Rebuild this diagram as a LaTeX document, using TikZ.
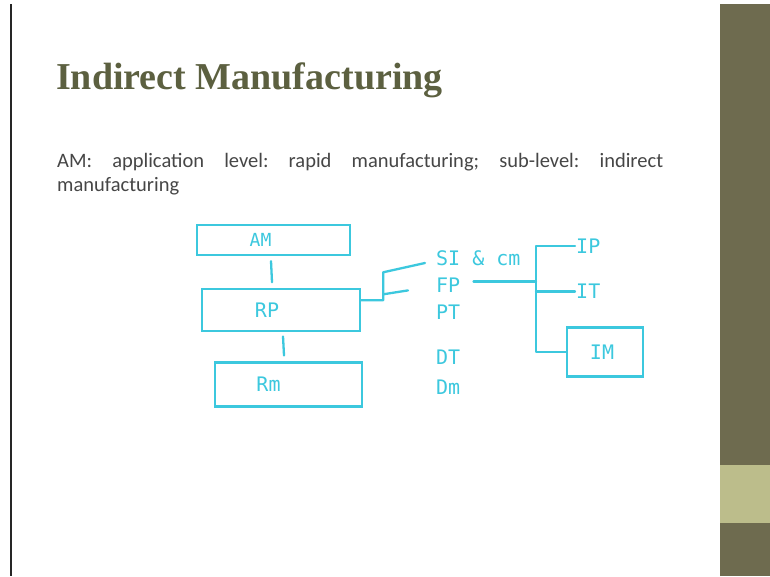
\documentclass[tikz,border=0pt]{standalone}
\usepackage{fontspec}
\setmainfont{Carlito}
\newfontfamily\titlefont{Liberation Serif}
\newfontfamily\handfont{DejaVu Sans Mono}
\usepackage{tikz}
\usetikzlibrary{positioning,calc}
\definecolor{slideolive}{RGB}{92,96,64}
\definecolor{barolive}{RGB}{110,107,79}
\definecolor{bandgreen}{RGB}{188,189,139}
\definecolor{bodygrey}{RGB}{70,70,70}
\definecolor{marker}{RGB}{60,200,222}
\frenchspacing

\begin{document}
\begin{tikzpicture}[x=1pt,y=-1pt,
    hbox/.style={rectangle,draw=marker,line width=2.3pt,inner sep=0pt,text=marker,font=\handfont\fontsize{20}{20}\selectfont},
    hlabel/.style={inner sep=1pt,text height=15pt,text depth=1pt,text=marker,font=\handfont\fontsize{20}{20}\selectfont},
    body/.style={anchor=base west,inner sep=0pt,text=bodygrey,font=\fontsize{20.5}{24}\selectfont},
    link/.style={draw=marker,line width=2.3pt,line cap=round,line join=round}
    ]

    \useasboundingbox (0,0) rectangle (770,576);
    \fill[white] (0,0) rectangle (770,576);
    \draw[black!85,line width=1.5pt] (11,4) -- (11,576);
    \fill[barolive] (720,4) rectangle (770,576);
    \fill[bandgreen] (720,465) rectangle (770,523);

    \node[anchor=base west,inner sep=0pt,text=slideolive,font=\titlefont\bfseries\fontsize{38}{40}\selectfont] (title) at (56,89) {Indirect Manufacturing};

    \node[body] (line1) at (57,167) {\makebox[606pt][s]{AM: application level: rapid manufacturing; sub-level: indirect}};
    \node[body] (line2) at (57,191) {manufacturing};

    \node[hbox,minimum width=153pt,minimum height=30pt] (AM) at (273.5,240) {\fontsize{18}{18}\selectfont AM\hspace*{26pt}};
    \node[hbox,minimum width=158pt,minimum height=42pt,below=32pt of AM,xshift=7.5pt] (RP) {RP\hspace*{28pt}};
    \node[hbox,minimum width=147pt,minimum height=44pt,below=29pt of RP,xshift=7.5pt] (Rm) {Rm\hspace*{40pt}};

    \node[hlabel,anchor=west] (sicm) at (435,258) {SI \& cm};
    \node[hlabel,below=9pt of sicm.south west,anchor=north west] (FP) {FP};
    \node[hlabel,below=9pt of FP.south west,anchor=north west] (PT) {PT};
    \node[hlabel,below=26pt of PT.south west,anchor=north west] (DT) {DT};
    \node[hlabel,below=12pt of DT.south west,anchor=north west] (Dm) {Dm};

    \node[hlabel,anchor=west] (IP) at (575,246) {IP};
    \node[hlabel,below=27pt of IP.south west,anchor=north west] (IT) {IT};
    \node[hbox,minimum width=76pt,minimum height=49pt] (IM) at (605,352) {IM\hspace*{6pt}};

    \draw[link] ([xshift=-2.5pt,yshift=-5pt]AM.south) -- ([xshift=-9pt,yshift=6pt]RP.north);
    \draw[link] ([xshift=2pt,yshift=-4pt]RP.south) -- ([xshift=-4.5pt,yshift=6pt]Rm.north);

    \coordinate (rpfork) at ([xshift=22pt,yshift=10pt]RP.east);
    \draw[link] ([yshift=10pt]RP.east) -- (rpfork) -- ++(0,-28) -- ([xshift=-10pt,yshift=-5pt]sicm.west);
    \draw[link] ([yshift=6pt]rpfork) -- ([xshift=-27pt,yshift=-5pt]FP.west);

    \coordinate (ipfork) at ([xshift=-39pt]IP.west);
    \draw[link] (IP.west) -- (ipfork) |- (IM.west);
    \draw[link] (ipfork |- IT.west) -- (IT.west);
    \coordinate (fpend) at ([xshift=12pt,yshift=4pt]FP.east);
    \draw[link] (fpend) -- (fpend -| ipfork);

  \end{tikzpicture}
\end{document}
